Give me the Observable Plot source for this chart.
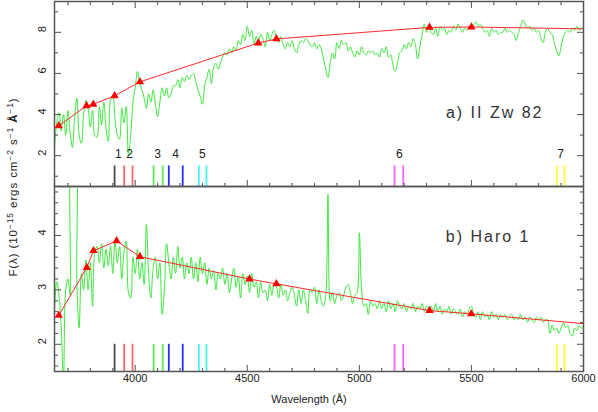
<!DOCTYPE html>
<html><head><meta charset="utf-8">
<script src="https://cdn.jsdelivr.net/npm/d3@7"></script>
<script src="https://cdn.jsdelivr.net/npm/@observablehq/plot@0.6"></script>
<style>
body{margin:0;background:#fff;font-family:"Liberation Sans",Arial,sans-serif;}
#chart{position:relative;width:598px;height:412px;overflow:hidden;}
#chart svg{display:block;overflow:visible;}
#ylabel{position:absolute;left:12px;top:187px;transform:translate(-50%,-50%) rotate(-90deg);white-space:nowrap;font-size:11.5px;color:#222;letter-spacing:0.9px;}
#ylabel sup{font-size:8.5px;}
</style></head><body>
<div id="chart"><div id="ylabel">F(λ) (10<sup>−15</sup> ergs cm<sup>−2</sup> s<sup>−1</sup> <b>Å</b><sup>−1</sup>)</div></div>
<script>
// wavelength sampling grid (Å) for both spectra: 3640 ... 6000 every 10 Å
const wavelengths = d3.range(3640, 6001, 10);

// a) II Zw 82 spectrum
const fluxA = [
  2.4, 3.6, 4.1, 3.2, 4.0, 3.0, 4.2, 3.1, 2.4, 3.9,
  4.8, 3.0, 2.6, 4.0, 4.7, 4.3, 3.4, 4.2, 3.0, 2.9,
  4.4, 3.5, 4.6, 3.3, 2.7, 4.7, 4.9, 3.8, 3.0, 2.8,
  4.3, 3.6, 4.4, 2.0, 3.0, 4.6, 5.3, 6.1, 5.5, 5.2,
  4.8, 4.3, 5.0, 4.6, 5.2, 4.5, 3.9, 4.6, 5.3, 4.9,
  5.3, 4.8, 5.0, 5.4, 5.4, 5.7, 5.3, 5.8, 5.6, 5.9,
  5.7, 5.9, 6.0, 5.6, 5.2, 4.9, 4.5, 5.4, 5.8, 6.2,
  5.5, 6.3, 6.5, 6.2, 6.5, 6.8, 7.0, 6.9, 7.2, 7.0,
  7.3, 7.1, 7.6, 7.4, 7.9, 7.6, 8.3, 7.8, 8.1, 7.4,
  7.8, 7.5, 7.9, 7.7, 7.3, 8.0, 7.6, 7.9, 8.1, 7.7,
  7.5, 7.8, 7.4, 7.2, 7.5, 7.3, 7.6, 7.2, 7.0, 7.4,
  7.6, 7.5, 7.7, 7.6, 7.4, 7.3, 7.5, 7.2, 7.4, 7.2,
  6.7, 6.2, 5.8, 6.5, 7.0, 6.7, 7.5, 7.2, 7.6, 7.4,
  7.5, 7.1, 7.3, 7.0, 6.8, 7.1, 6.9, 7.3, 7.0, 6.9,
  7.1, 7.0, 7.1, 6.9, 7.0, 6.8, 7.2, 7.0, 7.3, 6.8,
  6.9, 6.4, 6.1, 6.5, 7.0, 7.1, 7.4, 7.2, 7.5, 7.3,
  7.7, 7.4, 6.7, 7.3, 7.9, 8.4, 8.0, 8.3, 8.0, 7.9,
  8.2, 7.8, 8.3, 8.1, 8.2, 7.9, 8.1, 8.0, 8.3, 8.1,
  8.4, 8.2, 8.0, 8.2, 8.1, 8.3, 8.2, 8.4, 8.5, 8.3,
  8.4, 8.2, 8.0, 8.1, 7.8, 8.2, 8.0, 8.1, 7.9, 8.0,
  8.0, 8.2, 8.0, 8.1, 8.0, 7.9, 7.6, 8.0, 8.3, 8.6,
  8.4, 8.2, 8.3, 8.1, 8.2, 8.0, 8.1, 7.7, 7.5, 8.0,
  8.2, 8.0, 7.9, 7.5, 7.1, 6.85, 7.3, 7.8, 8.0, 8.1,
  8.0, 8.2, 8.1, 8.3, 8.1, 8.2, 8.2
];

// b) Haro 1 spectrum
const fluxB = [
  2.65, 3.15, 2.9, 2.3, 1.3, 3.0, 3.2, 2.9, 6.0, 6.0,
  3.1, 2.3, 3.3, 3.0, 3.55, 3.0, 3.5, 2.7, 3.7, 3.8,
  3.5, 3.85, 3.4, 3.75, 3.45, 3.8, 3.3, 3.9, 3.5, 3.8,
  3.2, 3.7, 3.9, 2.95, 2.85, 3.6, 3.3, 3.75, 3.2, 3.5,
  3.1, 4.2, 3.3, 2.85, 3.4, 3.6, 3.2, 3.5, 2.55, 3.0,
  3.85, 3.5, 3.2, 3.6, 3.3, 3.8, 3.4, 3.6, 3.2, 3.5,
  3.3, 3.6, 3.2, 3.5, 3.15, 3.6, 3.3, 3.5, 3.1, 3.4,
  3.2, 3.35, 3.0, 3.3, 3.2, 3.4, 3.1, 3.3, 2.95, 3.2,
  3.4, 3.05, 3.25, 2.85, 3.3, 3.1, 3.25, 2.95, 3.3, 3.05,
  3.15, 2.85, 3.15, 2.95, 3.0, 2.8, 3.1, 2.9, 3.1, 3.05,
  2.85, 3.1, 2.9, 3.0, 2.8, 2.95, 3.05, 2.9, 2.7, 3.0,
  2.75, 3.0, 2.8, 2.57, 3.0, 2.95, 3.05, 2.75, 3.0, 2.8,
  2.7, 2.9, 4.75, 2.8, 2.95, 2.75, 2.9, 2.95, 2.8, 2.9,
  3.05, 3.1, 2.95, 2.75, 2.9, 2.95, 4.05, 3.0, 2.7, 2.75,
  2.55, 2.8, 2.7, 2.75, 2.65, 2.8, 2.65, 2.75, 2.6, 2.8,
  2.65, 2.75, 2.6, 2.8, 2.7, 2.65, 2.75, 2.6, 2.7, 2.65,
  2.75, 2.6, 2.7, 2.65, 2.75, 2.6, 2.7, 2.65, 2.7, 2.6,
  2.75, 2.6, 2.7, 2.55, 2.65, 2.6, 2.7, 2.55, 2.65, 2.6,
  2.55, 2.65, 2.5, 2.6, 2.55, 2.65, 2.7, 2.55, 2.5, 2.6,
  2.45, 2.6, 2.5, 2.55, 2.45, 2.6, 2.5, 2.55, 2.45, 2.55,
  2.5, 2.55, 2.45, 2.5, 2.55, 2.45, 2.5, 2.45, 2.55, 2.45,
  2.5, 2.4, 2.5, 2.45, 2.4, 2.5, 2.45, 2.5, 2.4, 2.45,
  2.45, 2.2, 2.35, 2.25, 2.3, 2.2, 2.3, 2.4, 2.3, 2.35,
  2.2, 2.15, 2.3, 2.25, 2.35, 2.3, 2.3
];

// continuum points (triangles) and fitted continuum
const fitWaveA = [3659, 3783, 3813, 3908, 4021, 4549, 4630, 5313, 5500];
const fitFluxA = [3.45, 4.43, 4.50, 4.91, 5.59, 7.48, 7.68, 8.24, 8.26];
const fitWaveB = [3659, 3784, 3814, 3917, 4021, 4510, 4630, 5313, 5499];
const fitFluxB = [2.53, 3.41, 3.72, 3.90, 3.61, 3.20, 3.11, 2.62, 2.56];
const fitEndWave = 6000;
const fitEndFluxA = 8.17;
const fitEndFluxB = 2.38;

// spectral feature windows (marker lines)
const featureWave  = [3908, 3951, 3988, 4082, 4123, 4150, 4212, 4284, 4318, 5157, 5196, 5881, 5915];
const featureGroup = [1, 2, 2, 3, 3, 4, 4, 5, 5, 6, 6, 7, 7];
const groupColors  = ["#4a4a4a", "#f26b6b", "#5ee85e", "#2a2aff", "#3ff7f7", "#ff63ff", "#ffff33"];
const featureLabelWave = [3925, 3975, 4100, 4180, 4300, 5178, 5898];
const featureLabels = ["1", "2", "3", "4", "5", "6", "7"];

// ticks
const xMajor = [4000, 4500, 5000, 5500, 6000];
const xMinor = [3700, 3800, 3900, 4100, 4200, 4300, 4400, 4600, 4700, 4800, 4900, 5100, 5200, 5300, 5400, 5600, 5700, 5800, 5900];
const yMajorA = [2, 4, 6, 8];
const yMinorA = [1, 3, 5, 7, 9];
const yMajorB = [2, 3, 4];
const yMinorB = [1.6, 1.8, 2.2, 2.4, 2.6, 2.8, 3.2, 3.4, 3.6, 3.8, 4.2, 4.4, 4.6, 4.8];

const frameColor = "#555";
const textColor = "#222";
const features = featureWave.map((w, i) => ({wave: w, color: groupColors[featureGroup[i] - 1]}));

function tickMarks(vals, side, len) {
  const pos = (side === "left" || side === "right") ? {y: d => d} : {x: d => d};
  return Plot.vector(vals, {
    ...pos, frameAnchor: side, length: len,
    rotate: {bottom: 0, top: 180, left: 90, right: -90}[side],
    anchor: "start", r: 0, stroke: frameColor, strokeWidth: 1
  });
}

function panel(o) {
  const lineWave = [...o.fitWave, fitEndWave];
  const lineFlux = [...o.fitFlux, o.fitEnd];
  const marks = [
    Plot.line(wavelengths, {x: d => d, y: (d, i) => o.flux[i], stroke: "#3fe83f", strokeWidth: 1, curve: "catmull-rom", clip: true}),
    Plot.ruleX(features, {x: "wave", y1: o.yDomain[0], y2: o.featureTop, stroke: "color", strokeWidth: 1.8}),
    Plot.line(lineWave, {x: d => d, y: (d, i) => lineFlux[i], stroke: "#ff2a2a", strokeWidth: 1}),
    Plot.dot(o.fitWave, {x: d => d, y: (d, i) => o.fitFlux[i], symbol: "triangle", r: 3.1, fill: "#ff0000", stroke: "none"}),
    Plot.frame({stroke: frameColor, strokeWidth: 1.5}),
    tickMarks(xMajor, "bottom", 6), tickMarks(xMinor, "bottom", 3),
    tickMarks(o.yMajor, "left", 6), tickMarks(o.yMinor, "left", 3),
    tickMarks(o.yMajor, "right", 6), tickMarks(o.yMinor, "right", 3),
    Plot.text(o.yMajor, {y: d => d, text: d => String(d), frameAnchor: "left", dx: -12, rotate: -90, fontSize: 11, fill: textColor}),
    Plot.text([o.label], {frameAnchor: "top-right", dx: o.labelDx, dy: o.labelDy, textAnchor: "end", fontSize: 16, fill: "#333"})
  ];
  if (o.top) {
    marks.push(tickMarks(xMajor, "top", 6), tickMarks(xMinor, "top", 3));
    marks.push(Plot.text(featureLabelWave, {x: d => d, text: (d, i) => featureLabels[i], frameAnchor: "bottom", dy: -29, fontSize: 12, fill: textColor}));
  } else {
    marks.push(Plot.text(xMajor, {x: d => d, text: d => String(d), frameAnchor: "bottom", dy: 10, fontSize: 11, fill: textColor}));
    marks.push(Plot.text(["Wavelength (Å)"], {frameAnchor: "bottom", dx: -10, dy: 31, fontSize: 11, fill: textColor}));
  }
  const svg = Plot.plot({
    width: 598, height: o.height,
    marginLeft: 54, marginRight: 15, marginTop: o.marginTop, marginBottom: o.marginBottom,
    style: {fontFamily: "'Liberation Sans', Arial, sans-serif", background: "transparent", overflow: "visible"},
    x: {domain: [3640, 6000], axis: null},
    y: {domain: o.yDomain, axis: null},
    color: {type: "identity"},
    marks
  });
  d3.select(svg).selectAll("text").filter(function() { return this.textContent === o.label; })
    .attr("letter-spacing", "2px");
  return svg;
}

const chart = document.getElementById("chart");
chart.appendChild(panel({
  top: true, flux: fluxA, fitWave: fitWaveA, fitFlux: fitFluxA, fitEnd: fitEndFluxA,
  yDomain: [0.5, 9.5], yMajor: yMajorA, yMinor: yMinorA, featureTop: 1.5,
  height: 186, marginTop: 1, marginBottom: 0,
  label: "a) II Zw 82", labelDx: -40, labelDy: 105
}));
chart.appendChild(panel({
  top: false, flux: fluxB, fitWave: fitWaveB, fitFlux: fitFluxB, fitEnd: fitEndFluxB,
  yDomain: [1.5, 4.9], yMajor: yMajorB, yMinor: yMinorB, featureTop: 2.0,
  height: 226, marginTop: 0, marginBottom: 41,
  label: "b) Haro 1", labelDx: -53, labelDy: 44
}));
</script>
</body></html>
